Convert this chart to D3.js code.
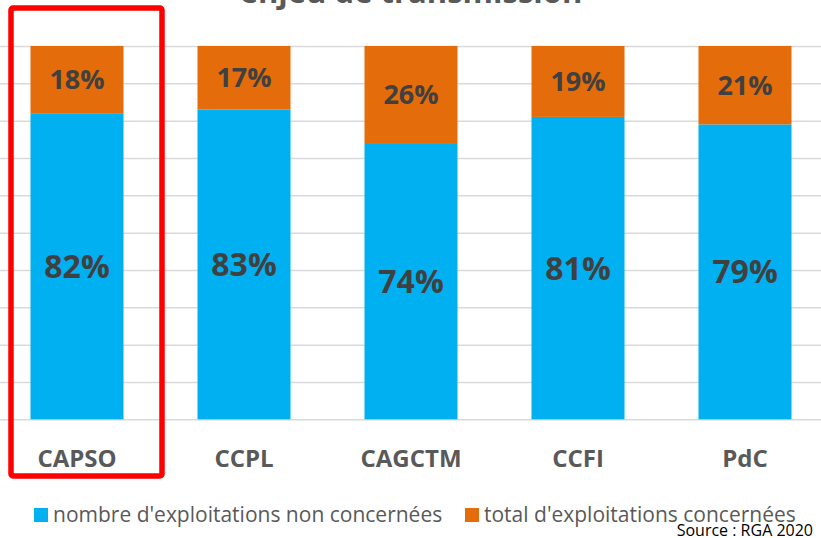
<!DOCTYPE html>
<html>
<head>
<meta charset="utf-8">
<script src="https://cdn.jsdelivr.net/npm/d3@7"></script>
<style>
  html, body { margin: 0; padding: 0; background: #fff; }
  svg { display: block; font-family: "Open Sans", "Noto Sans", sans-serif; }
</style>
</head>
<body>
<svg id="chart" width="821" height="538"></svg>
<script>
// Territories and share of farms (percent) by transmission status
const categories = ["CAPSO", "CCPL", "CAGCTM", "CCFI", "PdC"];
const nonConcernees = [82, 83, 74, 81, 79];
const concernees = [18, 17, 26, 19, 21];
const seriesNames = ["nombre d'exploitations non concernées", "total d'exploitations concernées"];
const yTicks = [0, 10, 20, 30, 40, 50, 60, 70, 80, 90, 100];

const colors = ["#00b0f0", "#e46c0a"];
const W = 821, H = 538;
const svg = d3.select("#chart");

const x = d3.scaleBand().domain(categories).range([-6.5, 828.5])
  .paddingInner(0.443).paddingOuter(0.2215);
const y = d3.scaleLinear().domain([0, 100]).range([419.3, 46]);

// Title (top clipped by the frame)
svg.append("text")
  .attr("x", 411).attr("y", 3)
  .attr("text-anchor", "middle")
  .attr("font-size", 31).attr("font-weight", 700)
  .attr("fill", "#595959")
  .text("enjeu de transmission");

// Gridlines
svg.append("g")
  .attr("class", "grid")
  .call(d3.axisLeft(y).tickValues(yTicks).tickSize(-W).tickFormat(""))
  .call(g => g.select(".domain").remove())
  .call(g => g.selectAll("line").attr("stroke", "#d9d9d9").attr("stroke-width", 1.5));

// Stack the two series
const rows = categories.map((c, i) => ({ cat: c, a: nonConcernees[i], b: concernees[i] }));
const stack = d3.stack().keys(["a", "b"])(rows);

const layers = svg.append("g").selectAll("g")
  .data(stack).join("g")
  .attr("fill", (d, i) => colors[i]);

layers.selectAll("rect")
  .data(d => d).join("rect")
  .attr("x", d => x(d.data.cat))
  .attr("width", x.bandwidth())
  .attr("y", d => y(d[1]))
  .attr("height", d => y(d[0]) - y(d[1]));

// Value labels inside segments
layers.each(function (layer, li) {
  d3.select(this).selectAll("text")
    .data(layer).join("text")
    .attr("x", d => x(d.data.cat) + x.bandwidth() / 2)
    .attr("y", d => (y(d[0]) + y(d[1])) / 2)
    .attr("dy", "0.36em")
    .attr("text-anchor", "middle")
    .attr("font-weight", 700)
    .attr("font-size", li === 0 ? 32 : 27)
    .attr("fill", "#404040")
    .text(d => (d[1] - d[0]) + "%");
});

// Category axis labels
svg.append("g")
  .attr("transform", "translate(0,419.3)")
  .call(d3.axisBottom(x).tickSize(0).tickPadding(0))
  .call(g => g.select(".domain").remove())
  .call(g => g.selectAll("text")
    .attr("y", 39).attr("dy", "0.36em")
    .attr("font-family", "Open Sans, sans-serif")
    .attr("font-size", 24).attr("font-weight", 700)
    .attr("fill", "#595959"));

// Highlight frame around the first territory
svg.append("rect")
  .attr("x", 11).attr("y", 8)
  .attr("width", 151).attr("height", 468)
  .attr("rx", 2)
  .attr("fill", "none")
  .attr("stroke", "#ff0000")
  .attr("stroke-width", 5.5);

// Legend
const legendItems = [
  { label: seriesNames[0], color: colors[0], x: 34 },
  { label: seriesNames[1], color: colors[1], x: 465 }
];
const lg = svg.append("g").selectAll("g").data(legendItems).join("g")
  .attr("transform", d => `translate(${d.x},508)`);
lg.append("rect").attr("width", 14).attr("height", 14).attr("fill", d => d.color);
lg.append("text")
  .attr("x", 19).attr("y", 6).attr("dy", "0.36em")
  .attr("font-size", 21).attr("fill", "#595959")
  .text(d => d.label);

// Source note
svg.append("text")
  .attr("x", 813).attr("y", 530).attr("dy", "0.36em")
  .attr("text-anchor", "end")
  .attr("font-size", 16).attr("fill", "#000")
  .text("Source : RGA 2020");
</script>
</body>
</html>
